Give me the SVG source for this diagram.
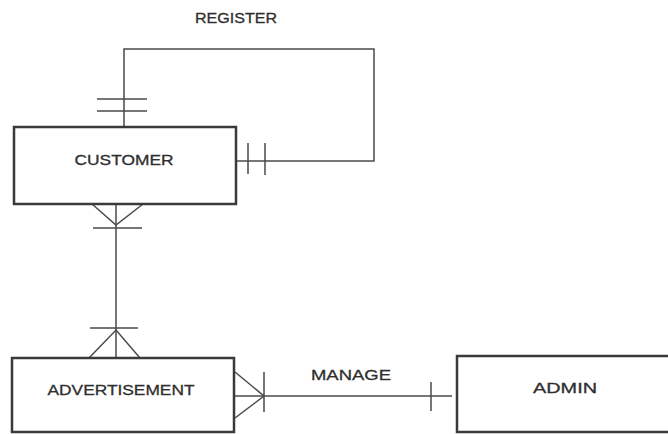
<svg xmlns="http://www.w3.org/2000/svg" width="668" height="434" viewBox="0 0 668 434">
<style>
.box{fill:#fff;stroke:#3a3a3a;stroke-width:2.5}
.ln{fill:none;stroke:#4a4a4a;stroke-width:1.5}
.t{font-family:"Liberation Sans",Arial,sans-serif;font-size:15px;fill:#2e2e2e;stroke:#2e2e2e;stroke-width:0.3}
</style>
<rect width="668" height="434" fill="#fff"/>
<g id="connectors">
<path class="ln" d="M124,127 V49 H374 V161 H229"/>
<path class="ln" d="M97,99 H147 M97,111 H147"/>
<path class="ln" d="M248,143 V174 M265,143 V175"/>
<path class="ln" d="M116,204 V358"/>
<path class="ln" d="M92,204 L116,225 L143,204 M93,228 H142"/>
<path class="ln" d="M89,358 L116,330 L140,358 M90,328 H138"/>
<path class="ln" d="M234,396 H452"/>
<path class="ln" d="M235,372 L264,396 L235,418 M264,372 V412"/>
<path class="ln" d="M431,382 V411"/>
<text class="t" x="236" y="23" text-anchor="middle" textLength="82" lengthAdjust="spacingAndGlyphs">REGISTER</text>
<text class="t" x="351" y="380" text-anchor="middle" textLength="80" lengthAdjust="spacingAndGlyphs">MANAGE</text>
</g>
<g id="customer">
<rect class="box" x="14" y="127" width="222" height="77"/>
<text class="t" x="124" y="165" text-anchor="middle" textLength="99" lengthAdjust="spacingAndGlyphs">CUSTOMER</text>
</g>
<g id="advertisement">
<rect class="box" x="12" y="358" width="222" height="74"/>
<text class="t" x="121" y="395" text-anchor="middle" textLength="147" lengthAdjust="spacingAndGlyphs">ADVERTISEMENT</text>
</g>
<g id="admin">
<rect class="box" x="457" y="356" width="214" height="76"/>
<text class="t" x="565" y="393" text-anchor="middle" textLength="64" lengthAdjust="spacingAndGlyphs">ADMIN</text>
</g>
</svg>
